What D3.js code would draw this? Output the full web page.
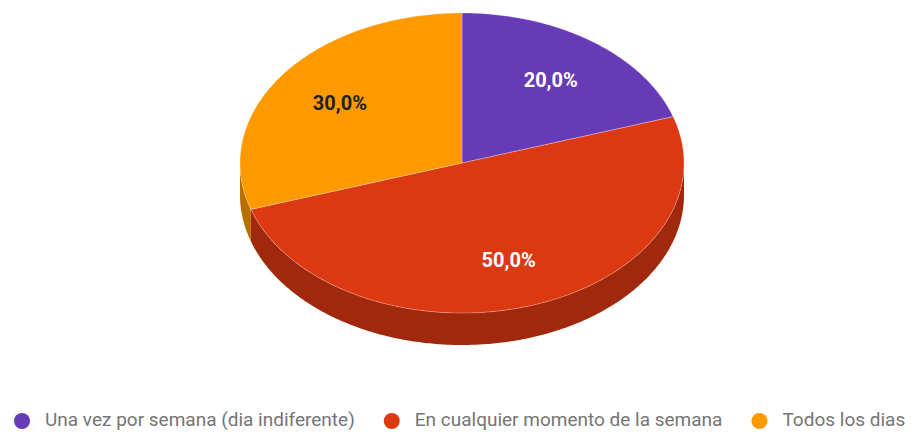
<html>
<head>
<style>
  body { margin: 0; background: #fff; }
  text { font-family: Roboto, "Noto Sans", sans-serif; }
</style>
</head>
<body>
<svg id="chart" width="916" height="432"></svg>
<script src="https://d3js.org/d3.v7.min.js"></script>
<script>
const categories = ["Una vez por semana (dia indiferente)", "En cualquier momento de la semana", "Todos los dias"]
const values = [20, 50, 30]
const labels = ["20,0%", "50,0%", "30,0%"]

const colors = ["#673ab7", "#dc3912", "#ff9900"]
const labelColors = ["#ffffff", "#ffffff", "#222222"]

const svg = d3.select("#chart")
const cx = 462, cy = 163, rx = 222, ry = 150, depth = 32

const pie = d3.pie().sort(null).value(d => d)
const arcs = pie(values)

// point on the ellipse for an angle measured clockwise from 12 o'clock
const pt = (a, r = 1, dy = 0) => [cx + rx * r * Math.sin(a), cy - ry * r * Math.cos(a) + dy]
const line = d3.line()

function arcPoints(a0, a1, dy) {
    let n = Math.max(2, Math.ceil((a1 - a0) / 0.01))
    return d3.range(n + 1).map(i => pt(a0 + (a1 - a0) * i / n, 1, dy))
}

// side walls (visible front half only: PI/2 .. 3PI/2)
let sides = svg.append("g")
arcs.forEach((d, i) => {
    let a0 = Math.max(d.startAngle, Math.PI / 2)
    let a1 = Math.min(d.endAngle, Math.PI * 1.5)
    if (a1 <= a0) return
    let top = arcPoints(a0, a1, 0)
    let bottom = arcPoints(a0, a1, depth).reverse()
    sides.append("path")
        .attr("d", line(top.concat(bottom)) + "Z")
        .attr("fill", d3.color(colors[i]).darker(0.9))
})

// top faces
let tops = svg.append("g")
arcs.forEach((d, i) => {
    let p = [[cx, cy]].concat(arcPoints(d.startAngle, d.endAngle, 0))
    tops.append("path")
        .attr("d", line(p) + "Z")
        .attr("fill", colors[i])
        .attr("stroke", "#ffffff")
        .attr("stroke-opacity", 0.35)
        .attr("stroke-width", 0.8)
})

// slice labels
arcs.forEach((d, i) => {
    let m = (d.startAngle + d.endAngle) / 2
    let [x, y] = pt(m, 0.68)
    svg.append("text")
        .attr("x", x).attr("y", y)
        .attr("text-anchor", "middle")
        .attr("dy", "0.35em")
        .attr("font-size", 20)
        .attr("font-weight", "bold")
        .attr("fill", labelColors[i])
        .text(labels[i])
})

// legend
let legend = svg.append("g")
let lx = 22, ly = 420
categories.forEach((c, i) => {
    legend.append("circle")
        .attr("cx", lx).attr("cy", ly + 1).attr("r", 8)
        .attr("fill", colors[i])
    let t = legend.append("text")
        .attr("x", lx + 23).attr("y", ly)
        .attr("dy", "0.33em")
        .attr("font-size", 19)
        .attr("fill", "#757575")
        .text(c)
    lx = lx + 23 + t.node().getComputedTextLength() + 37
})
</script>
</body>
</html>
